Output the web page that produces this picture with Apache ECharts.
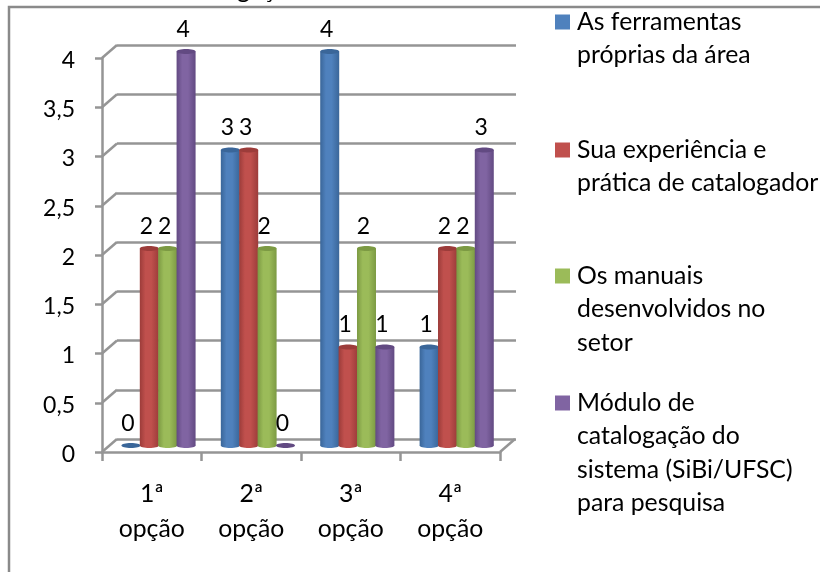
<!DOCTYPE html>
<html>
<head>
<meta charset="utf-8">
<style>
html, body { margin: 0; padding: 0; background: #fff; }
#main { width: 820px; height: 572px; }
</style>
<script src="https://cdn.jsdelivr.net/npm/echarts@6/dist/echarts.min.js"></script>
</head>
<body>
<div id="main"></div>
<script>
'use strict';
var categories = ['1ª\nopção', '2ª\nopção', '3ª\nopção', '4ª\nopção'];
var ferramentas = [0, 3, 4, 1];
var experiencia = [2, 3, 1, 2];
var manuais = [2, 2, 2, 2];
var modulo = [4, 0, 1, 3];
var yTicks = [0, 0.5, 1, 1.5, 2, 2.5, 3, 3.5, 4];
var seriesNames = [
	'As ferramentas\npróprias da área',
	'Sua experiência e\nprática de catalogador',
	'Os manuais\ndesenvolvidos no\nsetor',
	'Módulo de\ncatalogação do\nsistema (SiBi/UFSC)\npara pesquisa'
];
var seriesColors = ['#4F81BD', '#C0504D', '#9BBB59', '#8064A2'];
var seriesDark = ['#3A6699', '#9C3C3A', '#7C9A43', '#624A82'];
var seriesValues = [ferramentas, experiencia, manuais, modulo];

var FONT = 'Lato';
var TEXT_SIZE = 24.8;
var NUM_SIZE = 23;
var LINE = 33.5;
var GRID_COLOR = '#959595';
var legendFirstLine = [22, 150, 276, 403];

var chart = echarts.init(document.getElementById('main'), null, {renderer: 'canvas'});

function cylinderRenderer(idx) {
	return function (params, api) {
		var band = api.size([1, 0])[0];
		var pitch = band * 0.185;
		var w = 19;
		var base = api.coord([api.value(0), 0]);
		var top = api.coord([api.value(0), api.value(1)]);
		var cx = base[0] + (idx - 1.5) * pitch;
		var grad = new echarts.graphic.LinearGradient(0, 0, 1, 0, [
			{offset: 0, color: seriesDark[idx]},
			{offset: 0.3, color: seriesColors[idx]},
			{offset: 0.6, color: seriesColors[idx]},
			{offset: 1, color: seriesDark[idx]}
		]);
		var children = [];
		children.push({
			type: 'ellipse',
			shape: {cx: cx, cy: base[1], rx: w / 2, ry: 2.5},
			style: {fill: api.value(1) === 0 ? seriesDark[idx] : grad}
		});
		if (api.value(1) > 0) {
			children.push({
				type: 'rect',
				shape: {x: cx - w / 2, y: top[1], width: w, height: base[1] - top[1]},
				style: {fill: grad}
			});
			children.push({
				type: 'ellipse',
				shape: {cx: cx, cy: top[1], rx: w / 2, ry: 2.5},
				style: {fill: seriesDark[idx]}
			});
		}
		children.push({
			type: 'text',
			z2: 50,
			style: {
				text: String(api.value(1)),
				x: cx - 3,
				y: top[1] - 22,
				align: 'center',
				verticalAlign: 'middle',
				font: NUM_SIZE + 'px ' + FONT,
				fill: '#000'
			}
		});
		return {type: 'group', children: children};
	};
}

// little slanted pieces joining the front axis to the back wall
function diagonalRenderer(params, api) {
	var p = api.coord([api.value(0), api.value(1)]);
	return {
		type: 'line',
		shape: {x1: p[0], y1: p[1], x2: p[0] + 15, y2: p[1] - 13},
		style: {stroke: GRID_COLOR, lineWidth: 2.5}
	};
}

var series = [
	{
		type: 'custom',
		silent: true,
		xAxisIndex: 3,
		yAxisIndex: 3,
		renderItem: diagonalRenderer,
		clip: false,
		data: yTicks.map(function (t) { return [0, t]; }).concat([[4, 0]]),
		encode: {x: 0, y: 1},
		z: 1
	},
	// empty series so the back wall grid gets drawn
	{type: 'line', xAxisIndex: 1, yAxisIndex: 1, data: [], silent: true}
];

seriesNames.forEach(function (name, i) {
	series.push({
		name: name,
		type: 'custom',
		xAxisIndex: 2,
		yAxisIndex: 2,
		clip: false,
		silent: true,
		itemStyle: {color: seriesColors[i]},
		renderItem: cylinderRenderer(i),
		data: seriesValues[i].map(function (v, c) { return [c, v]; }),
		encode: {x: 0, y: 1},
		z: 5
	});
});

// blank lines in front of the name keep the swatch level with the first line
var legends = seriesNames.map(function (name, i) {
	var n = name.split('\n').length;
	return {
		show: true,
		data: [name],
		orient: 'vertical',
		left: 555,
		top: legendFirstLine[i] - (2 * n - 1) * LINE / 2,
		padding: 0,
		itemWidth: 17,
		itemHeight: 15,
		icon: 'path://M0 0H15V15H0ZM17 15L17 15',
		selectedMode: false,
		formatter: function (s) {
			return new Array(n).join('\n') + s;
		},
		textStyle: {
			fontFamily: FONT,
			fontSize: TEXT_SIZE,
			lineHeight: LINE,
			color: '#000'
		}
	};
});

chart.setOption({
	animation: false,
	backgroundColor: '#fff',
	graphic: [
		{
			type: 'polyline',
			silent: true,
			shape: {points: [[9, 572], [9, 7], [820, 7]]},
			style: {stroke: '#8a8a8a', lineWidth: 2.5, fill: 'none'},
			z: 0
		},
		{
			type: 'text',
			left: 172,
			top: -22,
			silent: true,
			style: {text: 'catalogação', font: TEXT_SIZE + 'px ' + FONT, fill: '#000'}
		}
	],
	legend: legends,
	grid: [
		{left: 102, top: 58, width: 398, height: 394},
		{left: 117, top: 45, width: 399, height: 394},
		{left: 108.8, top: 445.5 - 394, width: 397.6, height: 394},
		{left: 102, top: 58, width: 398, height: 394}
	],
	xAxis: [
		{
			gridIndex: 0,
			type: 'category',
			data: categories,
			boundaryGap: true,
			axisLine: {lineStyle: {color: GRID_COLOR, width: 2.5}},
			axisTick: {show: true, alignWithLabel: false, length: 9, lineStyle: {color: GRID_COLOR, width: 2.5}},
			axisLabel: {fontFamily: FONT, fontSize: TEXT_SIZE, lineHeight: 35, color: '#000', margin: 25}
		},
		{gridIndex: 1, type: 'category', data: categories, show: false},
		{gridIndex: 2, type: 'category', data: categories, show: false},
		{gridIndex: 3, type: 'value', min: 0, max: 4, interval: 1, show: false, splitLine: {show: false}}
	],
	yAxis: [
		{
			gridIndex: 0,
			type: 'value',
			min: 0,
			max: 4,
			interval: 0.5,
			axisLine: {show: true, lineStyle: {color: GRID_COLOR, width: 2.5}},
			axisTick: {show: true, length: 7, lineStyle: {color: GRID_COLOR, width: 2.5}},
			splitLine: {show: false},
			axisLabel: {
				color: '#000',
				margin: 27,
				formatter: function (v) { return '{n|' + String(v).replace('.', ',') + '}'; },
				rich: {
					n: {fontFamily: FONT, fontSize: NUM_SIZE, color: '#000', padding: [5, 0, 0, 0]}
				}
			}
		},
		{
			gridIndex: 1,
			type: 'value',
			min: 0,
			max: 4,
			interval: 0.5,
			axisLine: {show: false},
			axisTick: {show: false},
			axisLabel: {show: false},
			splitLine: {show: true, lineStyle: {color: GRID_COLOR, width: 2.5}}
		},
		{gridIndex: 2, type: 'value', min: 0, max: 4, interval: 0.5, show: false, splitLine: {show: false}},
		{gridIndex: 3, type: 'value', min: 0, max: 4, interval: 0.5, show: false, splitLine: {show: false}}
	],
	series: series
});
</script>
</body>
</html>
